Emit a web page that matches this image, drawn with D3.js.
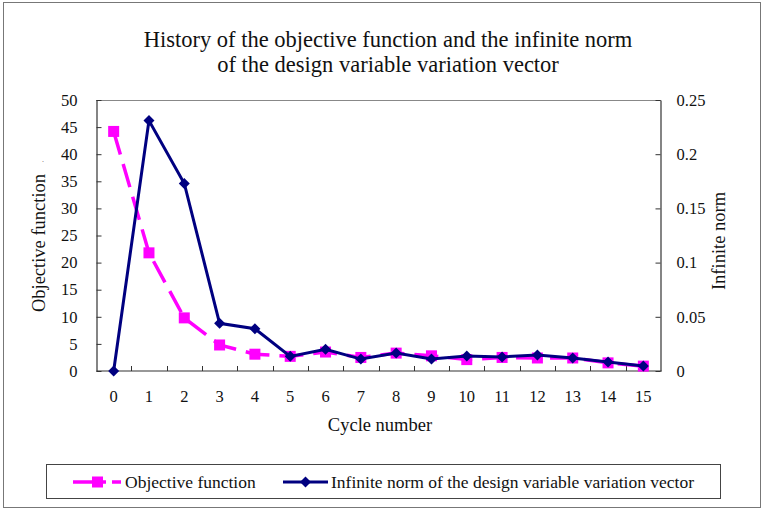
<!DOCTYPE html>
<html>
<head>
<meta charset="utf-8">
<script src="https://cdn.jsdelivr.net/npm/d3@7"></script>
<style>
  html, body { margin: 0; padding: 0; background: #fff; }
  svg { display: block; font-family: "Liberation Serif", "Times New Roman", serif; }
</style>
</head>
<body>
<svg id="chart" width="766" height="510"></svg>
<script>
// ---- data ----
const cycles = ["0","1","2","3","4","5","6","7","8","9","10","11","12","13","14","15"];
const objectiveValues = [44.2, 21.8, 9.8, 4.8, 3.1, 2.7, 3.5, 2.5, 3.3, 2.8, 2.1, 2.5, 2.4, 2.4, 1.5, 0.9];
const normValues = [0, 0.231, 0.173, 0.044, 0.039, 0.0135, 0.020, 0.011, 0.0165, 0.011, 0.0138, 0.013, 0.0148, 0.012, 0.0083, 0.0046];
const leftTicks = [0, 5, 10, 15, 20, 25, 30, 35, 40, 45, 50];
const rightTicks = [0, 0.05, 0.1, 0.15, 0.2, 0.25];
const rightTickLabels = ["0", "0.05", "0.1", "0.15", "0.2", "0.25"];
const titleLines = ["History of the objective function and the infinite norm", "of the design variable variation vector"];
const seriesNames = ["Objective function", "Infinite norm of the design variable variation vector"];

// ---- layout ----
const svg = d3.select("#chart");
const L = 96, R = 661, T = 100, B = 371;
const magenta = "#FF00FF", navy = "#000080", axisCol = "#333";

// outer frame
svg.append("rect").attr("x", 3.5).attr("y", 2.5).attr("width", 757).attr("height", 505)
  .attr("fill", "#fff").attr("stroke", "#777").attr("stroke-width", 1);

const x = d3.scaleBand().domain(cycles).range([L, R]);
const yL = d3.scaleLinear().domain([0, 50]).range([B, T]);
const yR = d3.scaleLinear().domain([0, 0.25]).range([B, T]);
const cx = d => x(d) + x.bandwidth() / 2;

// plot frame (top border)
svg.append("line").attr("x1", L).attr("x2", R).attr("y1", T + 0.5).attr("y2", T + 0.5)
  .attr("stroke", "#888").attr("stroke-width", 1);

// left axis
const gL = svg.append("g").attr("transform", `translate(${L + 0.5},0)`)
  .call(d3.axisLeft(yL).tickValues(leftTicks).tickSize(-5).tickSizeOuter(0).tickPadding(19).tickFormat(d3.format("d")));
// right axis
const gR = svg.append("g").attr("transform", `translate(${R - 0.5},0)`)
  .call(d3.axisRight(yR).tickValues(rightTicks).tickSize(-5).tickSizeOuter(0).tickPadding(16)
    .tickFormat((d, i) => rightTickLabels[i]));
// bottom axis: labels centered on categories
const gB = svg.append("g").attr("transform", `translate(0,${B - 0.5})`)
  .call(d3.axisBottom(x).tickSize(0).tickSizeOuter(0).tickPadding(20));
// bottom ticks at category boundaries
const boundaries = cycles.slice(1).map(c => x(c));
svg.append("g").selectAll("line").data(boundaries).join("line")
  .attr("x1", d => Math.round(d) + 0.5).attr("x2", d => Math.round(d) + 0.5)
  .attr("y1", B).attr("y2", B - 5).attr("stroke", axisCol).attr("stroke-width", 1);

[gL, gR, gB].forEach(g => {
  g.selectAll(".domain").attr("stroke", axisCol).attr("stroke-width", 1.2);
  g.selectAll(".tick line").attr("stroke", axisCol);
  g.selectAll("text").attr("font-family", "Liberation Serif, serif").attr("font-size", 16.5).attr("fill", "#111");
});

// series: objective function (magenta dashed, squares)
const objPts = cycles.map((c, i) => [cx(c), yL(objectiveValues[i])]);
svg.append("path").attr("d", d3.line()(objPts)).attr("fill", "none")
  .attr("stroke", magenta).attr("stroke-width", 3.5).attr("stroke-dasharray", "24,10");
svg.append("g").selectAll("rect").data(objPts).join("rect")
  .attr("x", d => d[0] - 5.5).attr("y", d => d[1] - 5.5).attr("width", 11).attr("height", 11)
  .attr("fill", magenta);

// series: infinite norm (navy solid, diamonds)
const normPts = cycles.map((c, i) => [cx(c), yR(normValues[i])]);
svg.append("path").attr("d", d3.line()(normPts)).attr("fill", "none")
  .attr("stroke", navy).attr("stroke-width", 3);
const diamond = (px, py, r) => `M${px},${py - r}L${px + r},${py}L${px},${py + r}L${px - r},${py}Z`;
svg.append("g").selectAll("path").data(normPts).join("path")
  .attr("d", d => diamond(d[0], d[1], 5.5)).attr("fill", navy);

// title
svg.append("g").selectAll("text").data(titleLines).join("text")
  .attr("x", 388).attr("y", (d, i) => 47 + i * 24.5).attr("text-anchor", "middle")
  .attr("font-size", 22.5).attr("fill", "#111").text(d => d);

// axis titles
svg.append("text").attr("transform", "translate(45,243) rotate(-90)").attr("text-anchor", "middle")
  .attr("font-size", 18.5).attr("fill", "#111").text("Objective function");
svg.append("text").attr("x", 43).attr("y", 162).attr("text-anchor", "middle")
  .attr("font-size", 8).attr("fill", "#555").text(".");
svg.append("text").attr("transform", "translate(725,241) rotate(-90)").attr("text-anchor", "middle")
  .attr("font-size", 18.5).attr("fill", "#111").text("Infinite norm");
svg.append("text").attr("x", 380).attr("y", 431).attr("text-anchor", "middle")
  .attr("font-size", 18.5).attr("fill", "#111").text("Cycle number");

// legend
const lg = svg.append("g");
lg.append("rect").attr("x", 46.5).attr("y", 464.5).attr("width", 674).attr("height", 34)
  .attr("fill", "#fff").attr("stroke", "#444").attr("stroke-width", 1);
const ly = 482;
lg.append("line").attr("x1", 73).attr("x2", 121).attr("y1", ly).attr("y2", ly)
  .attr("stroke", magenta).attr("stroke-width", 3.5).attr("stroke-dasharray", "33,6,9");
lg.append("rect").attr("x", 92).attr("y", ly - 5.5).attr("width", 11).attr("height", 11).attr("fill", magenta);
lg.append("text").attr("x", 125).attr("y", ly + 6).attr("font-size", 17.5).attr("fill", "#111").text(seriesNames[0]);
lg.append("line").attr("x1", 283).attr("x2", 328).attr("y1", ly).attr("y2", ly)
  .attr("stroke", navy).attr("stroke-width", 3);
lg.append("path").attr("d", diamond(305.5, ly, 5.5)).attr("fill", navy);
lg.append("text").attr("x", 331).attr("y", ly + 6).attr("font-size", 17.5).attr("fill", "#111").text(seriesNames[1]);
</script>
</body>
</html>
